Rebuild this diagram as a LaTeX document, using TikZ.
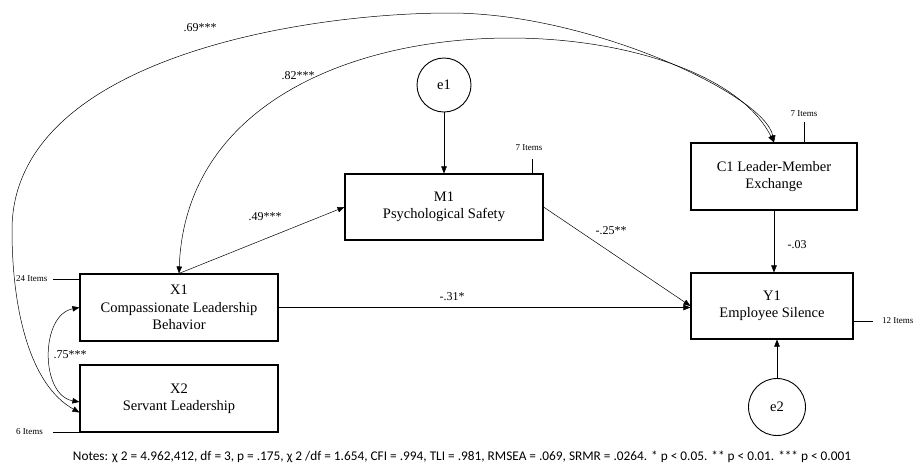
\documentclass[tikz,border=0pt]{standalone}
\usepackage{fontspec}
\setmainfont{Liberation Serif}
\newfontfamily\notesfont{Carlito}
\usetikzlibrary{arrows.meta}

\tikzset{
 varbox/.style={draw, line width=1.1pt, minimum width=#1, minimum height=67pt, align=center, inner sep=0pt, font=\rmfamily\fontsize{14.5}{17.5}\selectfont},
 errcirc/.style={draw, circle, line width=0.9pt, minimum size=#1, inner sep=0pt, font=\rmfamily\fontsize{14.5}{17.5}\selectfont},
 arr/.style={-{Triangle[length=7pt,width=5.5pt]}, line width=0.5pt},
 cov/.style={{Triangle[length=7pt,width=5.5pt]}-{Triangle[length=7pt,width=5.5pt]}, line width=0.5pt},
 coef/.style={font=\rmfamily\fontsize{12}{14}\selectfont, inner sep=1pt},
 items/.style={font=\rmfamily\fontsize{9}{10}\selectfont, inner sep=1pt},
}

\begin{document}
\begin{tikzpicture}[x=1pt,y=-1pt]
 \useasboundingbox (0,0) rectangle (913,467);
 % variables
 \node[varbox=198pt] (X1) at (179,307.5) {X1\\Compassionate Leadership\\Behavior};
 \node[varbox=198pt] (X2) at (179,398.5) {X2\\Servant Leadership};
 \node[varbox=198pt, minimum height=66pt] (M1) at (444,207) {M1\\Psychological Safety};
 \node[varbox=166pt] (C1) at (774,176.5) {C1 Leader-Member\\Exchange};
 \node[varbox=162pt, minimum height=66pt] (Y1) at (772,306) {Y1\\Employee Silence};
 % error terms
 \node[errcirc=54pt] (e1) at (444,85) {e1};
 \node[errcirc=57pt] (e2) at (777,407) {e2};
 % number of items
 \node[items, anchor=west] (iX1) at (15,279) {24 Items};
 \draw[line width=0.5pt] (iX1.west) ++(38,0) -- (X1.west |- iX1.west);
 \node[items, anchor=west] (iX2) at (15,432) {6 Items};
 \draw[line width=0.5pt] (iX2.west) ++(38,0) -- (X2.west |- iX2.west);
 \node[items] (iM1) at (529,148) {7 Items};
 \draw[line width=0.5pt] ([xshift=-11pt]M1.north east) -- +(0,-14);
 \node[items] (iC1) at (804,114) {7 Items};
 \draw[line width=0.5pt] ([yshift=-4pt]iC1.south) -- (iC1.south |- C1.north);
 \node[items, anchor=west] (iY1) at (881,321) {12 Items};
 \draw[line width=0.5pt] (Y1.east |- iY1.west) -- ++(19,0);
 % paths
 \draw[arr] (e1) -- (M1);
 \draw[arr] (e2) -- (e2 |- Y1.south);
 \draw[arr] (C1.south) -- (C1.south |- Y1.north);
 \draw[arr] (X1.north) -- (M1.west);
 \draw[arr] (M1.east) -- (Y1.west);
 \draw[arr] (X1.east) -- (X1.east -| Y1.west);
 % covariances
 \draw[cov] (X1.west) .. controls (40,315) and (40,395) .. (X2.182);
 \draw[cov] (X1.north) .. controls (190,-20) and (700,-5) .. (C1.north);
 \draw[cov] (X2.188) .. controls (30,385) and (12,310) .. (12,230)
   .. controls (12,60) and (300,13) .. (450,13)
   .. controls (590,13) and (765,95) .. (C1.north);
 % coefficients
 \node[coef] (l69) at (200,28) {.69***};
 \node[coef] (l82) at (298,76) {.82***};
 \node[coef] (l49) at (265,217) {.49***};
 \node[coef] (l31) at (452,297) {-.31*};
 \node[coef] (l25) at (611,231) {-.25**};
 \node[coef] (l03) at (797,245) {-.03};
 \node[coef] (l75) at (70,355) {.75***};
 % notes
 \node[font=\notesfont\fontsize{13.3}{15}\selectfont, inner sep=0pt] (notes) at (462,457)
   {Notes: χ 2 = 4.962,412, df = 3, p = .175, χ 2 /df = 1.654, CFI = .994, TLI = .981, RMSEA = .069, SRMR = .0264. * p < 0.05. ** p < 0.01. *** p < 0.001};
\end{tikzpicture}
\end{document}
